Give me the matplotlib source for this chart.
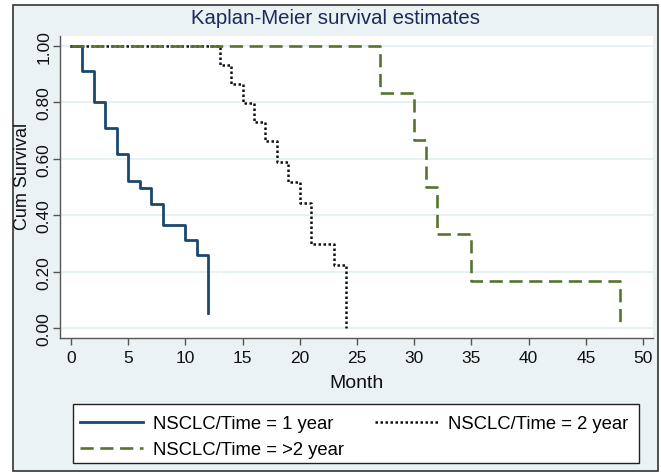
import matplotlib
matplotlib.use("Agg")
import matplotlib.pyplot as plt
from matplotlib.patches import Rectangle
from matplotlib.ticker import FormatStrFormatter

plt.rcParams['font.family'] = ['Liberation Sans', 'DejaVu Sans']

# Data (months, survival)
t1 = [0, 1, 2, 3, 4, 5, 6, 7, 8, 10, 11, 12]
s1 = [1.0, 0.91, 0.80, 0.71, 0.616, 0.52, 0.495, 0.44, 0.365, 0.312, 0.26, 0.052]
t2 = [0, 13, 14, 15, 16, 17, 18, 19, 20, 21, 23, 24]
s2 = [1.0, 0.933, 0.865, 0.798, 0.73, 0.664, 0.59, 0.518, 0.443, 0.298, 0.223, 0.0]
t3 = [0, 27, 30, 31, 32, 35, 48]
s3 = [1.0, 0.833, 0.667, 0.50, 0.333, 0.167, 0.0]
labels = ["NSCLC/Time = 1 year", "NSCLC/Time = 2 year", "NSCLC/Time = >2 year"]
xticks = list(range(0, 51, 5))
yticks = [0.0, 0.2, 0.4, 0.6, 0.8, 1.0]

W, H = 661, 477
fig = plt.figure(figsize=(W / 100, H / 100), dpi=100, facecolor='white')

bg = '#EAF2F3'
frame = Rectangle((13 / W, 1 - 472 / H), (658 - 13) / W, (472 - 6) / H,
                  transform=fig.transFigure, facecolor=bg, edgecolor='#333333',
                  linewidth=1.2, zorder=-10)
fig.patches.append(frame)

ax = fig.add_axes([60 / W, 1 - 339 / H, (652.7 - 60) / W, (339 - 37) / H])
ax.set_zorder(1)
ax.set_facecolor('white')

c1, c2, c3 = '#1a476f', '#111111', '#55752f'
l1, = ax.step(t1, s1, where='post', color=c1, lw=2.0, zorder=3)
l2, = ax.step(t2, s2, where='post', color=c2, lw=1.8, linestyle=(0, (1, 1)), zorder=3)
l3, = ax.step(t3, s3, where='post', color=c3, lw=1.9, linestyle=(0, (5, 2.5)), zorder=4)

ax.set_xlim(-0.96, 50.84)
ax.set_ylim(-0.035, 1.035)
ax.set_xticks(xticks)
ax.set_yticks(yticks)
ax.yaxis.set_major_formatter(FormatStrFormatter('%.2f'))
ax.grid(axis='y', color='#E3EDF0', lw=1.2, zorder=1)
ax.grid(axis='x', visible=False)
for s in ['top', 'right']:
    ax.spines[s].set_visible(False)
for s in ['left', 'bottom']:
    ax.spines[s].set_color('#555555')
    ax.spines[s].set_linewidth(1.0)
ax.tick_params(axis='both', direction='out', length=5, width=1, color='#555555',
               labelsize=12.5, labelcolor='#111111')
ax.tick_params(axis='y', pad=1.0)
for lab in ax.get_yticklabels():
    lab.set_rotation(90)
    lab.set_va('center')

fig.text(357 / W, 1 - 384 / H, 'Month', ha='center', va='center',
         fontsize=14, color='#111111')
fig.text(23 / W, 1 - 176 / H, 'Cum Survival', ha='center', va='center',
         rotation=90, fontsize=13, color='#111111')

fig.text(0.5 * (13 + 658) / W, 1 - 18 / H, 'Kaplan-Meier survival estimates',
         ha='center', va='center', fontsize=14.7, color='#1a2b5a')

# legend box
lbox = Rectangle((73 / W, 1 - 464 / H), (639 - 73) / W, (464 - 405) / H,
                 transform=fig.transFigure, facecolor='white', edgecolor='#222222',
                 linewidth=1.0, zorder=2)
fig.patches.append(lbox)

fs = 13.3
leg = fig.legend([l1, l3, l2], [labels[0], labels[2], labels[1]], ncol=2,
                 loc='upper left', bbox_to_anchor=(80 / W, 1 - 416 / H),
                 fontsize=fs, frameon=False,
                 handlelength=3.4, handletextpad=0.55, borderaxespad=0,
                 labelspacing=0.5, borderpad=0, columnspacing=1.7)
leg.set_zorder(5)

fig.savefig('out.png', dpi=100, facecolor='white')
